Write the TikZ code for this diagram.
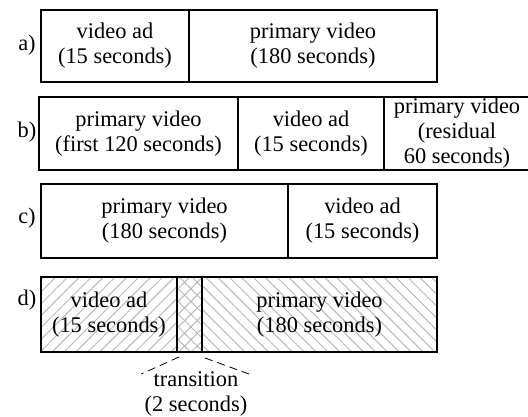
\documentclass[tikz,border=0pt]{standalone}
\usepackage{fontspec}
\setmainfont{Liberation Serif}
\usetikzlibrary{positioning,patterns.meta}

\begin{document}
\begin{tikzpicture}[
    x=0.5pt, y=-0.5pt,
    font=\fontsize{11.2}{12.5}\selectfont,
    cell/.style 2 args={rectangle, draw, line width=0.55pt, align=center, inner sep=0pt, outer sep=0pt, minimum width=#1, minimum height=#2},
    tag/.style={inner sep=0pt, align=center},
    adfill/.style={pattern={Lines[angle=45,distance=4.2pt,line width=0.5pt]}, pattern color=gray!55},
    mainfill/.style={pattern={Lines[angle=-45,distance=4.2pt,line width=0.5pt]}, pattern color=gray!55},
    mixfill/.style={pattern={Hatch[angle=45,distance=4.5pt,line width=0.5pt]}, pattern color=gray!55},
    tick/.style={draw, dashed, dash pattern=on 4pt off 2.5pt, line width=0.4pt}
    ]
    \useasboundingbox (0,0) rectangle (528,416);

    % a) ad before the video
    \node [cell={74pt}{36pt}] (a1) at (115,46) {video ad\\(15 seconds)};
    \node [cell={124pt}{36pt}, right=0pt of a1] (a2) {primary video\\(180 seconds)};
    \node [tag] (la) at (27,45) {a)};

    % b) ad in the middle
    \node [cell={99.5pt}{36.5pt}] (b1) at (138.5,133.5) {primary video\\(first 120 seconds)};
    \node [cell={73pt}{36.5pt}, right=0pt of b1] (b2) {video ad\\(15 seconds)};
    \node [cell={73pt}{36.5pt}, right=0pt of b2] (b3) {primary video\\(residual\\60 seconds)};
    \node [tag] (lb) at (27,132) {b)};

    % c) ad after the video
    \node [cell={123.5pt}{37pt}] (c1) at (164.5,221) {primary video\\(180 seconds)};
    \node [cell={74.5pt}{37pt}, right=0pt of c1] (c2) {video ad\\(15 seconds)};
    \node [tag] (lc) at (27,218) {c)};

    % d) ad blended into the video
    \node [cell={68pt}{37.5pt}, adfill] (d1) at (109,314.5) {video ad\\(15 seconds)};
    \node [cell={12.5pt}{37.5pt}, mixfill, right=0pt of d1] (d2) {};
    \node [cell={117.5pt}{37.5pt}, mainfill, right=0pt of d2] (d3) {primary video\\(180 seconds)};
    \node [tag] (ld) at (27,300) {d)};

    \node [tag] (trans) at (196,394) {transition\\(2 seconds)};
    \path [tick] ([xshift=1pt,yshift=-2.5pt]d2.south west) -- ([xshift=-1.5pt,yshift=10pt]trans.west);
    \path [tick] ([xshift=1.5pt,yshift=-3pt]d2.south east) -- ([xshift=2pt,yshift=9.5pt]trans.east);
\end{tikzpicture}
\end{document}
